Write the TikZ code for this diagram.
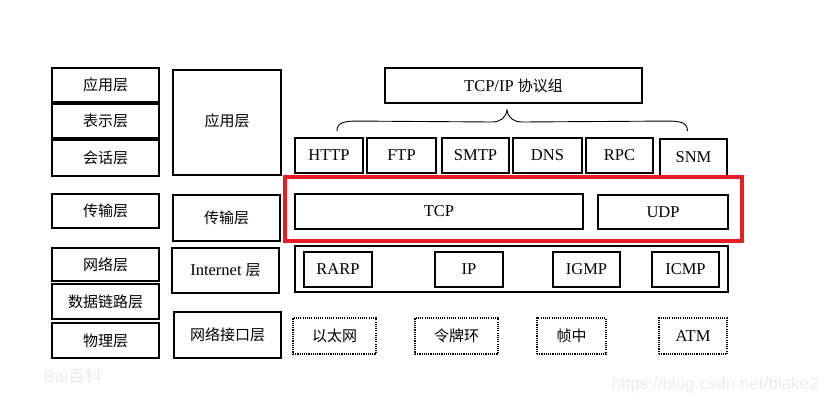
\documentclass[tikz,border=0pt]{standalone}
\usepackage{fontspec}
\setmainfont{Liberation Serif}
\newfontfamily\cjkfam{Noto Sans CJK SC}
\newcommand{\cjk}{\cjkfam\fontsize{15}{17}\selectfont}
\newfontfamily\wmfont{Liberation Sans}
\usetikzlibrary{calc}
\definecolor{hlred}{RGB}{232,28,36}
\tikzset{
  every node/.style={font=\fontsize{16.5}{18}\selectfont},
  thinbox/.style={draw, line width=1.2pt, inner sep=0pt, align=center},
  thickbox/.style={draw, line width=1.9pt, inner sep=0pt, align=center},
  dotbox/.style={draw, line width=1.2pt, dash pattern=on 1.1pt off 1.1pt, inner sep=0pt, align=center},
  redbox/.style={draw=hlred, line width=4pt},
  bracepath/.style={line width=0.9pt},
  watermark/.style={text=black!8, font=\wmfont\fontsize{17}{19}\selectfont}
}
\newcommand{\bx}[6]{\node[#1, minimum width=#4pt, minimum height=#5pt] (#2) at (#3) {#6};}
\begin{document}
\begin{tikzpicture}[x=1pt,y=-1pt]
\useasboundingbox[fill=white] (0,0) rectangle (831,405);
% OSI column
\bx{thinbox}{osiA}{105.5,85}{107}{34}{\cjk 应用层}
\bx{thinbox}{osiP}{105.5,121}{107}{34}{\cjk 表示层}
\bx{thinbox}{osiS}{105.5,158}{107}{36}{\cjk 会话层}
\bx{thinbox}{osiT}{105.5,211}{107}{34}{\cjk 传输层}
\bx{thinbox}{osiN}{105.5,264.5}{107}{33}{\cjk 网络层}
\bx{thinbox}{osiD}{105.5,301.5}{107}{35}{\cjk 数据链路层}
\bx{thinbox}{osiPh}{105.5,340.5}{107}{35}{\cjk 物理层}
% TCP/IP model column
\bx{thickbox}{tA}{227,122.5}{108}{105}{\raisebox{5pt}{\cjk 应用层}}
\bx{thickbox}{tT}{226.5,218}{107}{46}{\cjk 传输层}
\bx{thickbox}{tI}{225.5,270.5}{107}{45}{Internet {\cjk 层}}
\bx{thickbox}{tN}{227.5,335}{107}{46}{\cjk 网络接口层}
% suite title
\bx{thinbox}{suite}{513.5,85.5}{257}{35}{TCP/IP {\cjk 协议组}}
% application protocols
\bx{thickbox}{http}{329,155.5}{68}{35}{HTTP}
\bx{thinbox}{ftp}{401.5,155.5}{69}{35}{FTP}
\bx{thickbox}{smtp}{475.5,155.5}{67}{35}{SMTP}
\bx{thickbox}{dns}{547.5,155.5}{69}{35}{DNS}
\bx{thinbox}{rpc}{619.5,155.5}{67}{35}{RPC}
\bx{thickbox}{snm}{693.5,157.5}{67}{37}{SNM}
% brace
\coordinate (bl) at ($(http.north)+(8,-6)$);
\coordinate (br) at ($(snm.north)+(-6,-7)$);
\coordinate (bm) at (507,110);
\draw[bracepath] (bl) .. controls ($(bl)+(0,-8)$) and ($(bl)+(6,-10)$) .. ($(bl)+(20,-10)$)
  -- (492,122) .. controls (500,122) and (506,118) .. (bm)
  .. controls (508,118) and (514,122) .. (522,122)
  -- ($(br)+(-20,-10)$) .. controls ($(br)+(-6,-10)$) and ($(br)+(0,-8)$) .. (br);
% transport
\draw[redbox] (285,177) rectangle (742,241);
\bx{thickbox}{tcp}{439,211.5}{288}{35}{TCP}
\bx{thinbox}{udp}{663,212}{130}{34}{UDP}
% internet
\bx{thinbox}{inet}{511.5,269}{433}{46}{}
\bx{thinbox}{rarp}{338,269.5}{68}{35}{RARP}
\bx{thinbox}{ip}{469,269.5}{68}{35}{IP}
\bx{thinbox}{igmp}{586.5,269.5}{67}{35}{IGMP}
\bx{thinbox}{icmp}{685.5,269.5}{67}{35}{ICMP}
% link
\bx{dotbox}{eth}{334.5,336}{83}{36}{\cjk 以太网}
\bx{dotbox}{tok}{456.5,336}{83}{36}{\cjk 令牌环}
\bx{dotbox}{fr}{571.5,336}{69}{36}{\cjk 帧中}
\bx{dotbox}{atm}{693,336}{68}{36}{\raisebox{-3pt}{ATM}}
% watermarks
\node[watermark, anchor=east] (wm) at (822,385) {https://blog.csdn.net/blake2};
\node[watermark, anchor=west] (bd) at (40,376) {Bai{\cjkfam 百科}};
\end{tikzpicture}
\end{document}
